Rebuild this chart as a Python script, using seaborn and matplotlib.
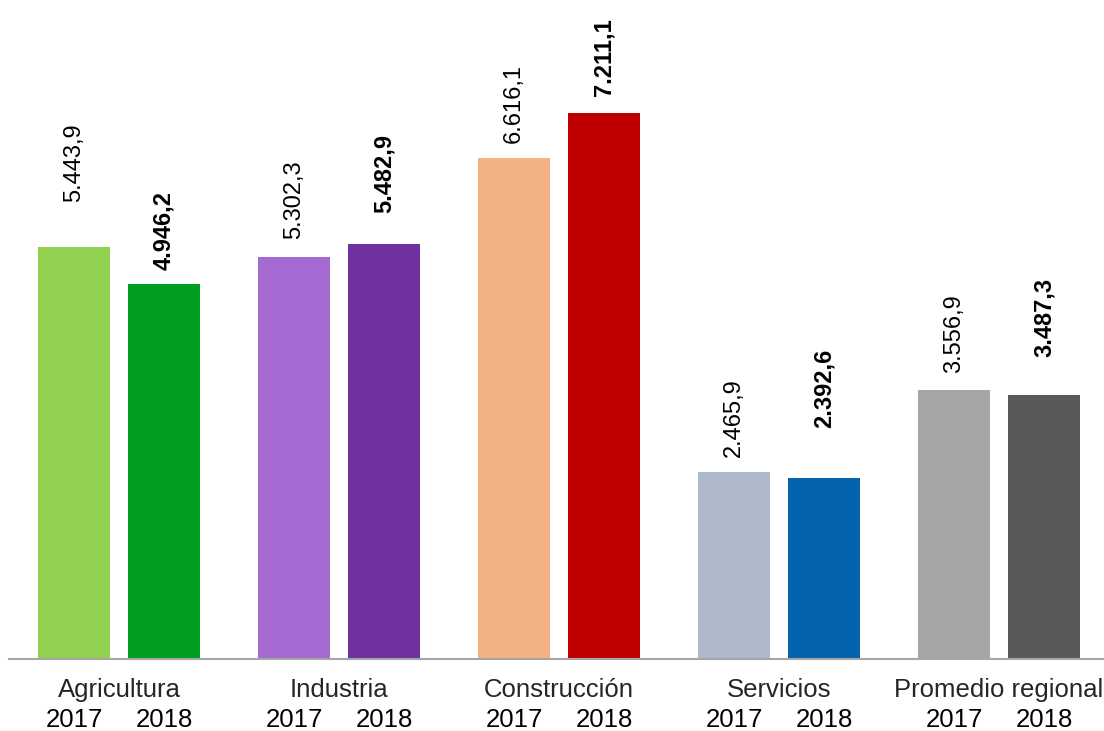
import pandas as pd
import matplotlib
matplotlib.use('Agg')
import matplotlib.pyplot as plt
import seaborn as sns

# 데이터
categories = ['Agricultura', 'Industria', 'Construcción', 'Servicios', 'Promedio regional']
years = ['2017', '2018']
values_2017 = [5443.9, 5302.3, 6616.1, 2465.9, 3556.9]
values_2018 = [4946.2, 5482.9, 7211.1, 2392.6, 3487.3]

# 막대 색상 (카테고리별 2017 / 2018)
colors_2017 = ['#92D050', '#A66BD3', '#F4B183', '#ADB9CA', '#A6A6A6']
colors_2018 = ['#009E1F', '#7030A0', '#C00000', '#0563AD', '#595959']

# 값 라벨과 막대 사이 간격 (pt)
pad_2017 = [32, 13, 11, 11, 12]
pad_2018 = [10, 22, 12, 36, 27]

df = pd.DataFrame({
    'categoria': categories * 2,
    'anio': ['2017'] * 5 + ['2018'] * 5,
    'valor': values_2017 + values_2018,
})

sns.set_style('white')
plt.rcParams['font.family'] = ['Liberation Sans', 'DejaVu Sans']

fig = plt.figure(figsize=(11.04, 7.31), dpi=100)
ax = fig.add_axes([9 / 1104, 72 / 731, 1100 / 1104, 659 / 731])

sns.barplot(data=df, x='categoria', y='valor', hue='anio', order=categories,
            hue_order=years, width=0.818, gap=0.2, legend=False, ax=ax)

# 막대별 색상 지정 + 값 라벨
for ci, (cols, vals, pads, weight) in enumerate([
        (colors_2017, values_2017, pad_2017, 'normal'),
        (colors_2018, values_2018, pad_2018, 'bold')]):
    for bar, col, v, p in zip(ax.containers[ci], cols, vals, pads):
        bar.set_facecolor(col)
        bar.set_edgecolor('none')
        cx = bar.get_x() + bar.get_width() / 2
        ax.annotate(f'{v:,.1f}'.replace(',', 'X').replace('.', ',').replace('X', '.'),
                    xy=(cx, v), xytext=(0, p), textcoords='offset points',
                    rotation=90, ha='center', va='bottom', fontsize=17,
                    fontweight=weight, color='black')
        # 연도 라벨
        ax.annotate(years[ci], xy=(cx, 0), xycoords=('data', 'axes fraction'),
                    xytext=(0, -44), textcoords='offset points',
                    ha='center', va='center', fontsize=18.5, color='black')

ax.set_ylim(0, 8700)
ax.set_xlim(-0.5, 4.5)
ax.set_xticks(range(len(categories)))
ax.set_xticklabels(categories, fontsize=18.5)
ax.tick_params(axis='x', length=0, pad=14)
ax.set_yticks([])
ax.set_xlabel('')
ax.set_ylabel('')
for s in ['top', 'right', 'left']:
    ax.spines[s].set_visible(False)
ax.spines['bottom'].set_color('#A6A6A6')
ax.spines['bottom'].set_linewidth(1.5)

fig.savefig('out.png', dpi=100)
